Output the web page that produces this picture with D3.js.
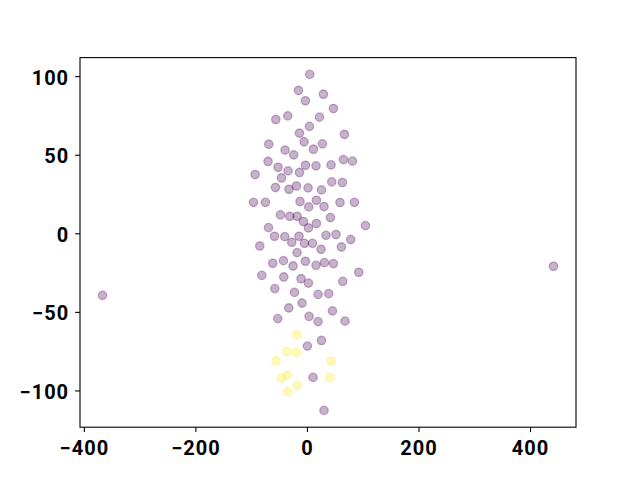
<!DOCTYPE html>
<html>
<head>
<meta charset="utf-8">
<script src="https://cdn.jsdelivr.net/npm/d3@7"></script>
<style>
  body { margin: 0; background: #fff; }
  svg text { font-family: Roboto, "Liberation Sans", sans-serif; font-weight: bold; }
</style>
</head>
<body>
<div id="chart"></div>
<script>
// cluster 0 (purple) points
var xs0 = [5.0, -15.2, 29.6, -2.7, 47.5, -55.9, -34.4, 22.4, 4.5, -13.4, 67.2, -68.5, -5.2, 27.8, -39.2,
  11.6, -23.7, -69.7, -51.8, -33.9, -2.7, 16.3, 43.2, 65.4, 81.5, -13.4, -93.0, -45.7, 44.4, 63.6,
  -56.4, -32.1, -18.8, 2.0, 26.0, -95.9, -74.4, -12.4, 3.2, 17.0, 30.6, 59.3, 85.1, -47.5, -30.8,
  -17.7, -6.3, 17.0, 2.7, 42.1, 104.8, -69.0, -58.2, -39.8, -14.2, -27.2, -4.5, 9.9, 34.2, 52.1,
  78.5, -84.6, 25.3, 61.8, -17.7, -61.3, -42.1, -24.9, -2.7, 16.3, 31.4, 47.5, 92.8, -81.0, -41.6,
  -10.6, 2.7, 64.2, -57.7, -22.4, 19.9, 39.1, -8.8, -32.6, 45.7, -52.3, 3.8, 19.9, 68.3, 0.9,
  26.0, 10.9, 30.6, 442.0, -366.5];
var ys0 = [101.1, 90.9, 88.5, 84.3, 79.4, 72.4, 74.7, 73.9, 68.0, 63.7, 62.9, 56.7, 58.2, 56.9, 52.9,
  53.5, 49.9, 45.7, 42.0, 39.7, 43.3, 42.9, 43.5, 46.9, 45.9, 38.7, 37.4, 35.2, 32.7, 32.3,
  29.1, 28.0, 30.1, 28.9, 27.6, 19.7, 19.7, 20.2, 16.8, 21.0, 17.0, 19.6, 19.7, 11.7, 10.8,
  10.8, 7.5, 6.2, 3.4, 10.0, 4.9, 3.6, -1.9, -2.1, -1.9, -5.7, -6.4, -6.4, -1.3, -0.8,
  -4.0, -8.1, -10.2, -8.7, -12.3, -19.1, -17.4, -20.8, -17.8, -20.4, -18.7, -19.3, -24.8, -26.8, -27.8,
  -28.9, -31.7, -30.6, -35.2, -37.6, -38.9, -38.4, -44.4, -47.5, -49.4, -54.3, -52.9, -56.2, -55.9, -71.8,
  -68.2, -91.7, -112.7, -21.0, -39.5];

// cluster 1 (yellow) points
var xs1 = [-18.3, -36.2, -18.8, -55.4, 43.2, -34.9, -46.4, 41.4, -17.7, -34.4];
var ys1 = [-64.5, -75.2, -75.8, -81.1, -81.3, -90.3, -92.2, -91.9, -96.8, -100.8];

var xTicks = [-400, -200, 0, 200, 400];
var yTicks = [-100, -50, 0, 50, 100];
var colors = ['#440154', '#fde725'];

var width = 640, height = 480;
var margin = {top: 57.6, right: 64, bottom: 52.8, left: 80};
var w = width - margin.left - margin.right,
    h = height - margin.top - margin.bottom;

var points = [];
xs0.forEach(function(d, i) { points.push({x: d, y: ys0[i], c: 0}); });
xs1.forEach(function(d, i) { points.push({x: d, y: ys1[i], c: 1}); });

// matplotlib-like 5% padding
function padded(ext) {
  var p = (ext[1] - ext[0]) * 0.05;
  return [ext[0] - p, ext[1] + p];
}

var x = d3.scaleLinear()
  .domain(padded(d3.extent(points, function(d) { return d.x; })))
  .range([0, w]);
var y = d3.scaleLinear()
  .domain(padded(d3.extent(points, function(d) { return d.y; })))
  .range([h, 0]);

var svg = d3.select('#chart').append('svg')
  .attr('width', width)
  .attr('height', height);

var g = svg.append('g')
  .attr('transform', 'translate(' + margin.left + ',' + margin.top + ')');

g.selectAll('.dot')
  .data(points)
  .enter().append('circle')
    .attr('class', 'dot')
    .attr('cx', function(d) { return x(d.x); })
    .attr('cy', function(d) { return y(d.y); })
    .attr('r', 4.2)
    .attr('fill', function(d) { return colors[d.c]; })
    .attr('fill-opacity', 0.3)
    .attr('stroke', function(d) { return colors[d.c]; })
    .attr('stroke-opacity', 0.3)
    .attr('stroke-width', 1.3);

var fmt = function(d) { return d < 0 ? '\u2212' + Math.abs(d) : d; };

var xAxis = g.append('g')
  .attr('transform', 'translate(0,' + h + ')')
  .call(d3.axisBottom(x).tickValues(xTicks).tickFormat(fmt).tickSize(4.9).tickPadding(8.5));
var yAxis = g.append('g')
  .call(d3.axisLeft(y).tickValues(yTicks).tickFormat(fmt).tickSize(4.9).tickPadding(6));

[xAxis, yAxis].forEach(function(a) {
  a.select('.domain').remove();
  a.selectAll('line').attr('stroke', '#000').attr('stroke-width', 1.1);
  a.selectAll('text').attr('fill', '#000')
    .style('font-size', '20px')
    .style('letter-spacing', '1px');
});
yAxis.selectAll('text').attr('dy', '0.4em');

g.append('rect')
  .attr('width', w)
  .attr('height', h)
  .attr('fill', 'none')
  .attr('stroke', '#000')
  .attr('stroke-width', 1.1);
</script>
</body>
</html>
